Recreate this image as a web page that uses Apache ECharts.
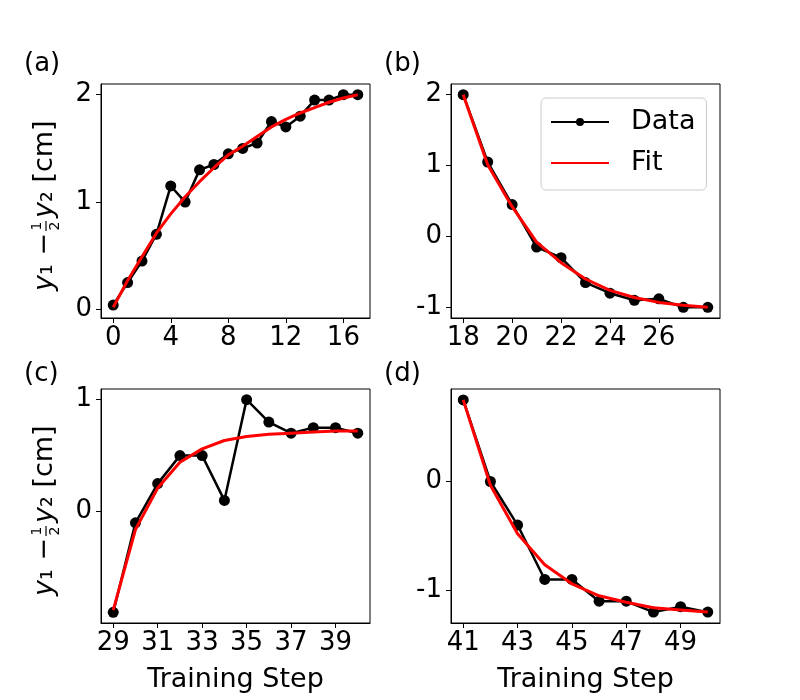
<!DOCTYPE html>
<html>
<head>
<meta charset="utf-8">
<script src="https://cdn.jsdelivr.net/npm/echarts@6.0.0/dist/echarts.min.js"></script>
<style>html,body{margin:0;background:#fff}#main{width:800px;height:700px}</style>
</head>
<body>
<div id="main"></div>
<script>
// panel (a)
const stepsA = [0, 1, 2, 3, 4, 5, 6, 7, 8, 9, 10, 11, 12, 13, 14, 15, 16, 17];
const dataA = [0.04, 0.25, 0.45, 0.7, 1.15, 1.0, 1.3, 1.35, 1.45, 1.5, 1.55, 1.75, 1.7, 1.8, 1.95, 1.95, 2.0, 2.0];
const fitA = [0.02, 0.27, 0.49, 0.71, 0.89, 1.05, 1.19, 1.32, 1.44, 1.52, 1.61, 1.7, 1.77, 1.83, 1.88, 1.93, 1.97, 2.0];
// panel (b)
const stepsB = [18, 19, 20, 21, 22, 23, 24, 25, 26, 27, 28];
const dataB = [2.0, 1.05, 0.45, -0.15, -0.3, -0.65, -0.8, -0.9, -0.88, -1.0, -1.0];
const fitB = [2.0, 1.01, 0.42, -0.08, -0.37, -0.6, -0.76, -0.86, -0.93, -0.97, -1.0];
// panel (c)
const stepsC = [29, 30, 31, 32, 33, 34, 35, 36, 37, 38, 39, 40];
const dataC = [-0.9, -0.1, 0.25, 0.5, 0.5, 0.1, 1.0, 0.8, 0.7, 0.75, 0.75, 0.7];
const fitC = [-0.88, -0.16, 0.21, 0.44, 0.56, 0.635, 0.67, 0.69, 0.7, 0.71, 0.72, 0.72];
// panel (d)
const stepsD = [41, 42, 43, 44, 45, 46, 47, 48, 49, 50];
const dataD = [0.75, 0.0, -0.4, -0.9, -0.9, -1.1, -1.1, -1.2, -1.15, -1.2];
const fitD = [0.75, -0.035, -0.48, -0.765, -0.94, -1.05, -1.11, -1.16, -1.18, -1.2];

// tick labels
const xTicksA = [0, 4, 8, 12, 16];
const xTicksB = [18, 20, 22, 24, 26];
const xTicksC = [29, 31, 33, 35, 37, 39];
const xTicksD = [41, 43, 45, 47, 49];
const yTicksA = [0, 1, 2];
const yTicksB = [-1, 0, 1, 2];
const yTicksC = [0, 1];
const yTicksD = [-1, 0];

const font = 'DejaVu Sans';

const chart = echarts.init(document.getElementById('main'));

const pairs = (xs, ys) => xs.map((x, i) => [x, ys[i]]);

function xAx(i, min, max, ticks, name) {
  return {
    type: 'value', gridIndex: i, min: min, max: max,
    axisLine: { show: true, onZero: false, lineStyle: { color: '#000', width: 1 } },
    axisTick: { show: true, length: 5, customValues: ticks, lineStyle: { color: '#000', width: 1 } },
    axisLabel: { customValues: ticks, color: '#000', fontSize: 26, fontFamily: font, margin: 7 },
    splitLine: { show: false },
    name: name || '', nameLocation: 'middle', nameGap: 43,
    nameTextStyle: { color: '#000', fontSize: 27, fontFamily: font }
  };
}

function yAx(i, min, max, ticks) {
  return {
    type: 'value', gridIndex: i, min: min, max: max,
    axisLine: { show: true, onZero: false, lineStyle: { color: '#000', width: 1 } },
    axisTick: { show: true, length: 5, customValues: ticks, lineStyle: { color: '#000', width: 1 } },
    axisLabel: { customValues: ticks, color: '#000', fontSize: 26, fontFamily: font, margin: 9 },
    splitLine: { show: false }
  };
}

function lines(i, xs, ys, fit) {
  return [
    {
      type: 'line', name: 'Data', xAxisIndex: i, yAxisIndex: i,
      data: pairs(xs, ys), symbol: 'circle', symbolSize: 11,
      itemStyle: { color: '#000' }, lineStyle: { color: '#000', width: 2.5 }, z: 2
    },
    {
      type: 'line', name: 'Fit', xAxisIndex: i, yAxisIndex: i,
      data: pairs(xs, fit), symbol: 'none',
      itemStyle: { color: '#ff0000' }, lineStyle: { color: '#ff0000', width: 3 }, z: 3
    }
  ];
}

const grid = (l, t) => ({ left: l, top: t, width: 269, height: 234, show: true, borderColor: '#000', borderWidth: 1, backgroundColor: 'transparent' });

const label = (txt, l, t) => ({
  type: 'text', left: l, top: t,
  style: { text: txt, fontSize: 26, fontFamily: font, fill: '#000' }
});

// y1 - (1/2) y2 [cm], rotated, with a stacked fraction; origin is the fraction centre
function yLabel(cx, cy) {
  return {
    type: 'group', x: cx, y: cy, rotation: Math.PI / 2,
    children: [
      {
        type: 'text', x: -7, y: 0,
        style: {
          text: '{i|y}₁ −', fontSize: 27, fontFamily: font, fill: '#000',
          align: 'right', verticalAlign: 'middle',
          rich: { i: { fontStyle: 'italic', fontSize: 27, fontFamily: font, fill: '#000' } }
        }
      },
      { type: 'text', x: 0, y: -8, style: { text: '1', fontSize: 14, fontFamily: font, fill: '#000', align: 'center', verticalAlign: 'middle' } },
      { type: 'line', shape: { x1: -5, y1: 1, x2: 5, y2: 1 }, style: { stroke: '#000', lineWidth: 1.2 } },
      { type: 'text', x: 0, y: 10, style: { text: '2', fontSize: 14, fontFamily: font, fill: '#000', align: 'center', verticalAlign: 'middle' } },
      {
        type: 'text', x: 8, y: 0,
        style: {
          text: '{i|y}₂ [cm]', fontSize: 27, fontFamily: font, fill: '#000',
          align: 'left', verticalAlign: 'middle',
          rich: { i: { fontStyle: 'italic', fontSize: 27, fontFamily: font, fill: '#000' } }
        }
      }
    ]
  };
}

const option = {
  animation: false,
  backgroundColor: '#fff',
  grid: [grid(101, 84), grid(451, 84), grid(101, 389), grid(451, 389)],
  xAxis: [
    xAx(0, -0.85, 17.85, xTicksA),
    xAx(1, 17.5, 28.5, xTicksB),
    xAx(2, 28.45, 40.55, xTicksC, 'Training Step'),
    xAx(3, 40.55, 50.45, xTicksD, 'Training Step')
  ],
  yAxis: [
    yAx(0, -0.08, 2.1, yTicksA),
    yAx(1, -1.15, 2.15, yTicksB),
    yAx(2, -0.995, 1.095, yTicksC),
    yAx(3, -1.3, 0.85, yTicksD)
  ],
  legend: {
    data: [{ name: 'Data' }, { name: 'Fit', itemStyle: { opacity: 0 } }],
    orient: 'vertical', left: 541, top: 98,
    padding: [9, 11, 12, 9], itemWidth: 58, itemHeight: 10, itemGap: 11,
    borderColor: '#cccccc', borderWidth: 1, borderRadius: 5, backgroundColor: '#fff',
    selectedMode: false,
    textStyle: { color: '#000', fontSize: 27, fontFamily: font, lineHeight: 30, padding: [0, 0, 0, 17] }
  },
  graphic: [
    label('(a)', 24, 51),
    label('(b)', 384, 51),
    label('(c)', 24, 361),
    label('(d)', 384, 361),
    yLabel(45, 226),
    yLabel(45, 531)
  ],
  series: [].concat(
    lines(0, stepsA, dataA, fitA),
    lines(1, stepsB, dataB, fitB),
    lines(2, stepsC, dataC, fitC),
    lines(3, stepsD, dataD, fitD)
  )
};

chart.setOption(option);
window.addEventListener('resize', () => chart.resize());
</script>
</body>
</html>
